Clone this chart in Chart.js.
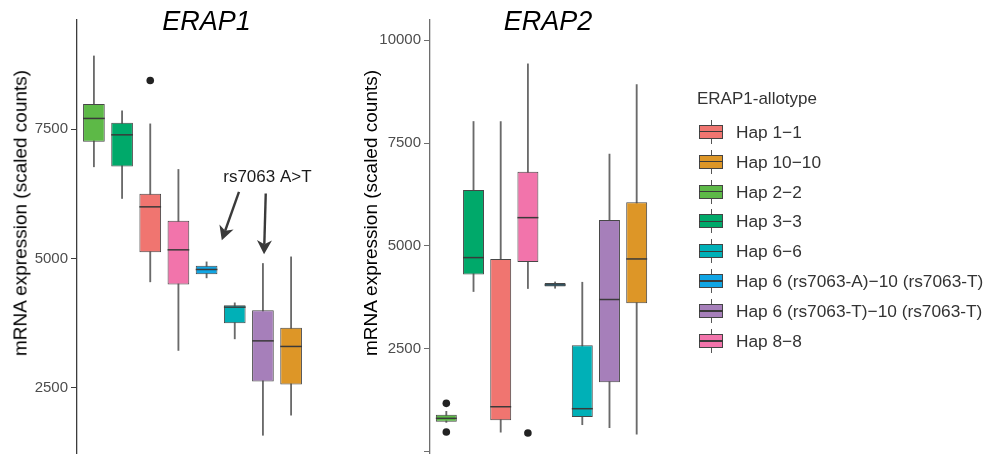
<!DOCTYPE html>
<html>
<head>
<meta charset="utf-8">
<script src="https://cdn.jsdelivr.net/npm/chart.js@4.4.1/dist/chart.umd.min.js"></script>
<style>
  html, body { margin: 0; padding: 0; background: #fff; }
  body { width: 990px; height: 454px; overflow: hidden; position: relative;
         font-family: "Liberation Sans", Arial, sans-serif; }
  canvas { position: absolute; top: 0; }
  .panel-title { position: absolute; top: 8px; font-style: italic; font-size: 27px;
                 line-height: 27px; color: #000; transform: translateX(-50%); white-space: nowrap; }
  .axis-title { position: absolute; top: 212.5px; font-size: 19px; line-height: 19px; color: #000;
                white-space: nowrap; transform: translate(-50%, -50%) rotate(-90deg); }
  #legend { position: absolute; left: 0; top: 0; width: 990px; height: 454px; pointer-events: none; }
  .lg-title { position: absolute; left: 697px; top: 89px; font-size: 17px; line-height: 20px; color: #333; white-space: nowrap; }
  .lg-row { position: absolute; left: 699px; height: 24px; }
  .lg-key { position: absolute; left: 0; top: 0; width: 24px; height: 24px; }
  .lg-key .wh { position: absolute; left: 11.5px; top: 0; width: 1px; height: 24px; background: #555; }
  .lg-key .bx { position: absolute; left: 0; top: 5px; width: 24px; height: 14px; box-sizing: border-box; border: 1px solid #444; }
  .lg-key .md { position: absolute; left: 0; top: 11.3px; width: 24px; height: 1.5px; background: #3a3a3a; }
  .lg-text { position: absolute; left: 37px; top: 0; line-height: 24px; font-size: 17.3px; color: #333; white-space: nowrap; }
</style>
</head>
<body>
<canvas id="erap1" width="330" height="474" style="left:0px"></canvas>
<canvas id="erap2" width="315" height="474" style="left:349px"></canvas>
<div class="panel-title" style="left:206.5px">ERAP1</div>
<div class="panel-title" style="left:548px">ERAP2</div>
<div class="axis-title" style="left:19.5px">mRNA expression (scaled counts)</div>
<div class="axis-title" style="left:369.7px">mRNA expression (scaled counts)</div>
<div id="legend"></div>

<script>
// Genotype groups in plotting order (left to right in each panel)
const haplotypes = [
  'Hap 2\u22122', 'Hap 3\u22123', 'Hap 1\u22121', 'Hap 8\u22128',
  'Hap 6 (rs7063-A)\u221210 (rs7063-T)', 'Hap 6\u22126',
  'Hap 6 (rs7063-T)\u221210 (rs7063-T)', 'Hap 10\u221210'
];
const boxColors = ['#5DB947', '#00A96A', '#F07570', '#F274AB', '#10A5E4', '#00B0B7', '#A67FBA', '#DD9627'];

// Legend entries (alphabetical, as listed in the key)
const legendOrder = [
  'Hap 1\u22121', 'Hap 10\u221210', 'Hap 2\u22122', 'Hap 3\u22123', 'Hap 6\u22126',
  'Hap 6 (rs7063-A)\u221210 (rs7063-T)', 'Hap 6 (rs7063-T)\u221210 (rs7063-T)', 'Hap 8\u22128'
];

// ERAP1 expression summaries (scaled counts)
const erap1Low    = [6772, 6160, 4548, 3222, 4625, 3446, 1582, 1971];
const erap1Q1     = [7255, 6779, 5122, 4498, 4697, 3749, 2623, 2564];
const erap1Median = [7707, 7390, 5998, 5167, 4787, 4059, 3407, 3299];
const erap1Q3     = [7988, 7622, 6249, 5727, 4857, 4097, 4001, 3659];
const erap1High   = [8915, 7854, 7602, 6721, 4934, 4142, 4903, 5031];
const erap1Outliers = [{ x: 2, y: 8441 }];
const erap1Ticks = [2500, 5000, 7500];

// ERAP2 expression summaries (scaled counts)
const erap2Low    = [712, 3893, 472, 3966, 3973, 656, 583, 423];
const erap2Q1     = [728, 4306, 763, 4612, 4015, 842, 1685, 3609];
const erap2Median = [811, 4718, 1093, 5689, 4053, 1045, 3699, 4685];
const erap2Q3     = [898, 6359, 4685, 6806, 4102, 2590, 5631, 6061];
const erap2High   = [981, 8026, 8026, 9427, 4126, 4119, 7233, 8924];
const erap2Outliers = [{ x: 0, y: 1175 }, { x: 0, y: 478 }, { x: 3, y: 454 }];
const erap2Ticks = [0, 2500, 5000, 7500, 10000];

// rs7063 annotation: label and two arrows, in data units (group index, counts)
const noteText = 'rs7063 A>T';
const notePos = { x: 6.16, y: 6481 };
const noteArrows = [
  { from: { x: 5.15, y: 6287 }, to: { x: 4.54, y: 5354 } },
  { from: { x: 6.10, y: 6256 }, to: { x: 6.04, y: 5083 } }
];

const FONT = '"Liberation Sans", Arial, sans-serif';

// Median bars drawn across each box, using the box element geometry
const medianPlugin = {
  id: 'boxMedian',
  afterDatasetsDraw(chart, args, opts) {
    const meta = chart.getDatasetMeta(1);
    const y = chart.scales.y;
    const ctx = chart.ctx;
    ctx.save();
    ctx.strokeStyle = '#3a3a3a';
    ctx.lineWidth = 1.5;
    meta.data.forEach((el, i) => {
      const py = y.getPixelForValue(opts.values[i]);
      ctx.beginPath();
      ctx.moveTo(el.x - el.width / 2, py);
      ctx.lineTo(el.x + el.width / 2, py);
      ctx.stroke();
    });
    ctx.restore();
  }
};

// Text + arrow callouts positioned through the chart scales
const notePlugin = {
  id: 'callout',
  afterDatasetsDraw(chart, args, opts) {
    if (!opts.text) return;
    const xs = chart.scales.x, ys = chart.scales.y, ctx = chart.ctx;
    ctx.save();
    ctx.fillStyle = '#1a1a1a';
    ctx.font = '17px ' + FONT;
    ctx.textAlign = 'center';
    ctx.textBaseline = 'alphabetic';
    ctx.fillText(opts.text, xs.getPixelForValue(opts.pos.x), ys.getPixelForValue(opts.pos.y));
    ctx.strokeStyle = '#3a3a3a';
    ctx.fillStyle = '#3a3a3a';
    ctx.lineWidth = 2.4;
    opts.arrows.forEach(a => {
      const x0 = xs.getPixelForValue(a.from.x), y0 = ys.getPixelForValue(a.from.y);
      const x1 = xs.getPixelForValue(a.to.x), y1 = ys.getPixelForValue(a.to.y);
      const dx = x1 - x0, dy = y1 - y0, len = Math.hypot(dx, dy);
      const ux = dx / len, uy = dy / len, nx = -uy, ny = ux;
      const headLen = 14, headHalf = 7.5, notch = 10;
      ctx.beginPath();
      ctx.moveTo(x0, y0);
      ctx.lineTo(x1 - ux * notch, y1 - uy * notch);
      ctx.stroke();
      ctx.beginPath();
      ctx.moveTo(x1, y1);
      ctx.lineTo(x1 - ux * headLen + nx * headHalf, y1 - uy * headLen + ny * headHalf);
      ctx.lineTo(x1 - ux * notch, y1 - uy * notch);
      ctx.lineTo(x1 - ux * headLen - nx * headHalf, y1 - uy * headLen - ny * headHalf);
      ctx.closePath();
      ctx.fill();
    });
    ctx.restore();
  }
};

function makePanel(id, cfg) {
  const idx = haplotypes.map((_, i) => i);
  new Chart(document.getElementById(id), {
    type: 'bar',
    data: {
      datasets: [
        {
          label: 'whisker',
          data: idx.map(i => ({ x: i, y: [cfg.low[i], cfg.high[i]] })),
          backgroundColor: '#6a6a6a',
          borderWidth: 0,
          barThickness: 1.2,
          grouped: false,
          order: 3
        },
        {
          label: 'box',
          data: idx.map(i => ({ x: i, y: [cfg.q1[i], cfg.q3[i]] })),
          backgroundColor: boxColors,
          borderColor: '#474747',
          borderWidth: 1,
          borderSkipped: false,
          barPercentage: 0.77,
          categoryPercentage: 1,
          grouped: false,
          order: 2
        },
        {
          type: 'scatter',
          label: 'outlier',
          data: cfg.outliers,
          pointRadius: 3.8,
          pointBackgroundColor: '#222',
          pointBorderWidth: 0,
          order: 1
        }
      ]
    },
    options: {
      responsive: false,
      animation: false,
      events: [],
      layout: { padding: { top: 20, bottom: 20, left: 0, right: cfg.padRight } },
      plugins: {
        legend: { display: false },
        tooltip: { enabled: false },
        title: { display: false },
        boxMedian: { values: cfg.median },
        callout: cfg.note || {}
      },
      scales: {
        x: {
          type: 'linear',
          offset: false,
          min: -0.6,
          max: haplotypes.length - 0.4,
          display: false,
          afterBuildTicks: s => { s.ticks = idx.map(v => ({ value: v })); }
        },
        y: {
          type: 'linear',
          min: cfg.min,
          max: cfg.max,
          afterBuildTicks: s => { s.ticks = cfg.ticks.map(v => ({ value: v })); },
          afterFit: s => { s.width = cfg.axisWidth; },
          ticks: {
            font: { size: 15, family: FONT },
            color: '#4d4d4d',
            padding: 3,
            callback: v => (v === 0 ? '' : String(v))
          },
          grid: { display: true, drawOnChartArea: false, drawTicks: true, tickLength: 6, color: cfg.axisColor, lineWidth: 1 },
          border: { display: true, color: cfg.axisColor, width: 1.3 },
          title: { display: false }
        }
      }
    },
    plugins: [medianPlugin, notePlugin]
  });
}

makePanel('erap1', {
  low: erap1Low, q1: erap1Q1, median: erap1Median, q3: erap1Q3, high: erap1High,
  outliers: erap1Outliers, ticks: erap1Ticks, min: 1220, max: 9610,
  axisWidth: 77, padRight: 22, axisColor: '#3c3c3c',
  note: { text: noteText, pos: notePos, arrows: noteArrows }
});

makePanel('erap2', {
  low: erap2Low, q1: erap2Q1, median: erap2Median, q3: erap2Q3, high: erap2High,
  outliers: erap2Outliers, ticks: erap2Ticks, min: -56, max: 10493,
  axisWidth: 81, padRight: 11, axisColor: '#6e6e6e'
});

// Key: one box glyph per genotype group
(function buildLegend() {
  const host = document.getElementById('legend');
  const t = document.createElement('div');
  t.className = 'lg-title';
  t.textContent = 'ERAP1-allotype';
  host.appendChild(t);
  legendOrder.forEach((name, k) => {
    const row = document.createElement('div');
    row.className = 'lg-row';
    row.style.top = (119.7 + k * 29.9) + 'px';
    const key = document.createElement('div');
    key.className = 'lg-key';
    key.innerHTML = '<div class="wh"></div><div class="bx" style="background:' +
      boxColors[haplotypes.indexOf(name)] + '"></div><div class="md"></div>';
    const txt = document.createElement('div');
    txt.className = 'lg-text';
    txt.textContent = name;
    row.appendChild(key);
    row.appendChild(txt);
    host.appendChild(row);
  });
})();
</script>
</body>
</html>
